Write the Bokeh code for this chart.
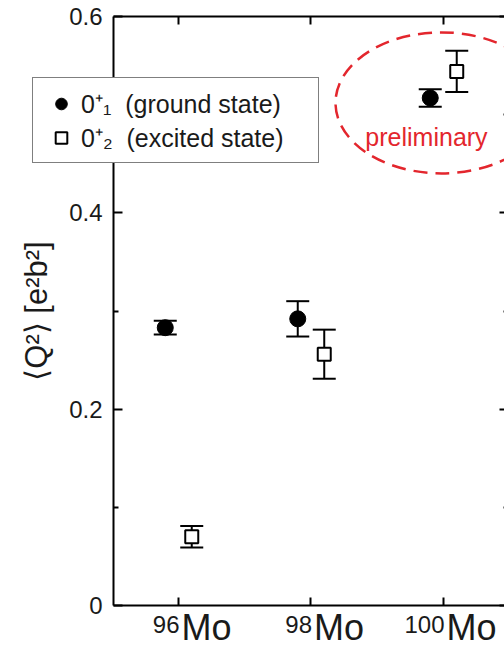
from bokeh.plotting import figure
from bokeh.models import (Range1d, LinearAxis, FixedTicker, Whisker, ColumnDataSource,
                          Legend, LegendItem, Label, TeeHead)
from bokeh.transform import dodge
from bokeh.embed import file_html
from bokeh.resources import INLINE

# ---- data ----
isotopes = ["96", "98", "100"]
mass = [96, 98, 100]
q2_ground = [0.283, 0.292, 0.517]
q2_ground_err = [0.007, 0.018, 0.009]
q2_excited = [0.070, 0.256, 0.544]
q2_excited_err = [0.011, 0.025, 0.021]
y_ticks = [0, 0.2, 0.4, 0.6]
y_tick_labels = ["0", "0.2", "0.4", "0.6"]
y_minor = [0.1, 0.3, 0.5]
legend_labels = ["0\u207a\u2081  (ground state)", "0\u207a\u2082  (excited state)"]
note_text = "preliminary"
y_title = "\u27e8Q\u00b2\u27e9 [e\u00b2b\u00b2]"

# ---- layout constants (plot box placement inside the canvas) ----
X_MIN = 95.02        # left edge of the plot box
X_RIGHT = 100.98     # right edge of the plot box (just outside the visible area)
VIEW_X = (93.313, 100.921)
VIEW_Y = (-0.0438, 0.6163)
RED = "#e3262d"
INK = "#1a1a1a"
FONT = "Liberation Sans"

src = ColumnDataSource(dict(
    mass=mass,
    g=q2_ground,
    g_lo=[v - e for v, e in zip(q2_ground, q2_ground_err)],
    g_hi=[v + e for v, e in zip(q2_ground, q2_ground_err)],
    e=q2_excited,
    e_lo=[v - e for v, e in zip(q2_excited, q2_excited_err)],
    e_hi=[v + e for v, e in zip(q2_excited, q2_excited_err)],
))

p = figure(width=504, height=648, x_range=Range1d(*VIEW_X), y_range=Range1d(*VIEW_Y),
           output_backend="svg", toolbar_location=None,
           min_border_left=0, min_border_right=0, min_border_top=0, min_border_bottom=0)
p.grid.visible = False
p.outline_line_color = None
p.background_fill_color = "white"
p.border_fill_color = "white"


def style_x(ax):
    ax.ticker = FixedTicker(ticks=mass, minor_ticks=[])
    ax.major_label_overrides = {m: "" for m in mass}
    ax.major_label_text_font_size = "0px"
    ax.major_label_standoff = 0
    ax.major_tick_in = 8
    ax.major_tick_out = 0
    ax.major_tick_line_width = 2
    ax.axis_line_width = 2
    ax.axis_line_color = "black"
    ax.major_tick_line_color = "black"
    ax.bounds = (X_MIN, X_RIGHT)


def style_y(ax):
    ax.bounds = (y_ticks[0], y_ticks[-1])
    ax.ticker = FixedTicker(ticks=y_ticks, minor_ticks=y_minor)
    ax.major_tick_in = 9
    ax.major_tick_out = 0
    ax.minor_tick_in = 5
    ax.minor_tick_out = 0
    ax.major_tick_line_width = 2
    ax.minor_tick_line_width = 2
    ax.axis_line_width = 2
    ax.axis_line_color = "black"
    ax.major_tick_line_color = "black"
    ax.minor_tick_line_color = "black"


# bottom axis
xa = p.xaxis[0]
style_x(xa)
xa.fixed_location = y_ticks[0]

# top axis
top = LinearAxis()
style_x(top)
top.fixed_location = y_ticks[-1]
p.add_layout(top, "above")

# left axis
ya = p.yaxis[0]
style_y(ya)
ya.fixed_location = X_MIN
ya.major_label_overrides = {t: l for t, l in zip(y_ticks, y_tick_labels)}
ya.major_label_text_font = FONT
ya.major_label_text_font_size = "24px"
ya.major_label_text_color = INK
ya.major_label_standoff = 11
ya.axis_label = y_title
ya.axis_label_text_font = FONT
ya.axis_label_text_font_size = "31px"
ya.axis_label_text_font_style = "normal"
ya.axis_label_text_color = INK
ya.axis_label_standoff = 12

# right axis (only the inward tick stubs fall inside the picture)
ra = LinearAxis()
style_y(ra)
ra.fixed_location = X_RIGHT
ra.major_label_overrides = {t: "" for t in y_ticks}
ra.major_label_text_font_size = "0px"
ra.major_label_standoff = 0
p.add_layout(ra, "right")

# error bars
xg = dodge("mass", -0.2, range=p.x_range)
xe = dodge("mass", 0.2, range=p.x_range)
for base, lo, hi in [(xg, "g_lo", "g_hi"), (xe, "e_lo", "e_hi")]:
    w = Whisker(source=src, base=base, lower=lo, upper=hi, dimension="height",
                line_width=2, line_color="black",
                upper_head=TeeHead(size=23, line_width=2, line_color="black"),
                lower_head=TeeHead(size=23, line_width=2, line_color="black"))
    p.add_layout(w)

r_g = p.scatter(x=xg, y="g", source=src, marker="circle", size=16,
                fill_color="black", line_color="black")
r_e = p.scatter(x=xe, y="e", source=src, marker="square", size=13,
                fill_color="white", line_color="black", line_width=2)

# "preliminary" ellipse around the 100Mo values
p.ellipse(x=[mass[2] - 0.03], y=[0.512], width=212, height=141,
          width_units="screen", height_units="screen",
          fill_color=None, line_color=RED, line_width=2.5, line_dash="14 8")
p.add_layout(Label(x=mass[2], y=0.477, x_offset=-17, text=note_text, text_align="center",
                   text_baseline="alphabetic", text_color=RED, text_font=FONT,
                   text_font_size="25px"))

# isotope labels (superscript mass number + element symbol)
for m, iso in zip(mass, isotopes):
    p.add_layout(Label(x=m, y=y_ticks[0], x_offset=3, y_offset=-22, text="Mo",
                       text_align="left", text_baseline="alphabetic", text_font=FONT,
                       text_font_size="36px", text_color=INK))
    p.add_layout(Label(x=m, y=y_ticks[0], x_offset=1, y_offset=-19, text=iso,
                       text_align="right", text_baseline="alphabetic", text_font=FONT,
                       text_font_size="24px", text_color=INK))

legend = Legend(items=[LegendItem(label=legend_labels[0], renderers=[r_g]),
                       LegendItem(label=legend_labels[1], renderers=[r_e])],
                location=(32, 485), label_text_font=FONT, label_text_font_size="25px",
                label_text_color=INK,
                border_line_color="black", border_line_width=1.5, background_fill_color="white",
                background_fill_alpha=1.0, padding=8, spacing=0, glyph_width=40,
                glyph_height=29, label_height=29, label_width=229, label_standoff=0, margin=0)
p.add_layout(legend)

open("out.html", "w").write(file_html(p, INLINE))
